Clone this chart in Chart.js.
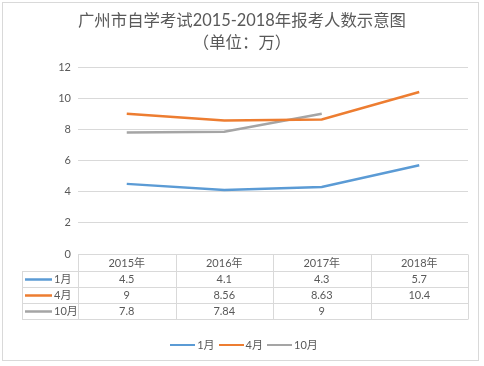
<!DOCTYPE html>
<html><head><meta charset="utf-8">
<script src="https://cdn.jsdelivr.net/npm/chart.js@4.4.1/dist/chart.umd.min.js"></script>
<style>
html,body{margin:0;padding:0;background:#fff;}
#wrap{position:relative;width:484px;height:366px;overflow:hidden;font-family:Lato,"Noto Sans CJK SC",sans-serif;color:#595959;}
#frame{position:absolute;left:2px;top:2px;width:477px;height:359px;border:1px solid #d9d9d9;box-sizing:border-box;}
#title{position:absolute;left:0;top:9px;width:484px;text-align:center;font-size:16.4px;line-height:22px;}
#legend{position:absolute;left:0;top:337px;width:484px;text-align:center;font-size:11px;line-height:16px;}
#legend span.k{display:inline-block;width:25px;height:2.5px;vertical-align:middle;margin:0 2px 0 4px;position:relative;top:-1px;}
canvas{position:absolute;left:0;top:0;}
</style></head>
<body>
<div id="wrap">
<div id="frame"></div>
<canvas id="c" width="484" height="366"></canvas>
<div id="title">广州市自学考试2015-2018年报考人数示意图<br>（单位：万）</div>
<div id="legend"></div>
</div>
<script>
const categories = ["2015年","2016年","2017年","2018年"];
const seriesNames = ["1月","4月","10月"];
const jan = [4.5, 4.1, 4.3, 5.7];
const apr = [9, 8.56, 8.63, 10.4];
const oct = [7.8, 7.84, 9, null];
const yTicks = [0, 2, 4, 6, 8, 10, 12];
const colors = ["#5B9BD5", "#ED7D31", "#A5A5A5"];
const seriesData = [jan, apr, oct];

const FONT = 'Lato, "Noto Sans CJK SC", sans-serif';
const TXT = '#595959';
const GRID = '#d9d9d9';

document.getElementById('legend').innerHTML = seriesNames.map((n,i)=>
  '<span class="k" style="background:'+colors[i]+'"></span>'+n).join('');

const tablePlugin = {
  id: 'dataTable',
  afterDraw(chart) {
    const ctx = chart.ctx;
    const xs = chart.scales.x;
    const area = chart.chartArea;
    const left = area.left, right = area.right, top = area.bottom;
    const colW = (right - left) / categories.length;
    const rowH = [17, 16, 16, 16];
    const keyLeft = 22;
    ctx.save();
    ctx.strokeStyle = GRID;
    ctx.lineWidth = 1;
    let ys = [top];
    rowH.forEach(h => ys.push(ys[ys.length-1] + h));
    ys = ys.map(v => Math.round(v) + 0.5);
    ctx.beginPath();
    ctx.moveTo(left, ys[0]); ctx.lineTo(right, ys[0]);
    for (let r = 1; r < ys.length; r++) { ctx.moveTo(keyLeft, ys[r]); ctx.lineTo(right, ys[r]); }
    for (let c = 0; c <= categories.length; c++) {
      const x = Math.round(left + c * colW) + 0.5;
      ctx.moveTo(x, ys[0]); ctx.lineTo(x, ys[ys.length-1]);
    }
    ctx.moveTo(keyLeft + 0.5, ys[1]); ctx.lineTo(keyLeft + 0.5, ys[ys.length-1]);
    ctx.stroke();

    ctx.fillStyle = TXT;
    ctx.font = '11px ' + FONT;
    ctx.textBaseline = 'middle';
    ctx.textAlign = 'center';
    categories.forEach((c, i) => {
      ctx.fillText(c, xs.getPixelForValue(i), (ys[0] + ys[1]) / 2);
    });
    seriesData.forEach((arr, r) => {
      const yc = (ys[r+1] + ys[r+2]) / 2;
      ctx.textAlign = 'center';
      arr.forEach((v, i) => {
        if (v !== null && v !== undefined) ctx.fillText(String(v), xs.getPixelForValue(i), yc);
      });
      ctx.strokeStyle = colors[r];
      ctx.lineWidth = 2.5;
      ctx.beginPath();
      ctx.moveTo(keyLeft + 3, yc); ctx.lineTo(keyLeft + 30, yc);
      ctx.stroke();
      ctx.textAlign = 'left';
      ctx.fillText(seriesNames[r], keyLeft + 32, yc);
    });
    ctx.restore();
  }
};

new Chart(document.getElementById('c'), {
  type: 'line',
  data: {
    labels: categories,
    datasets: seriesNames.map((n, i) => ({
      label: n,
      data: seriesData[i],
      borderColor: colors[i],
      backgroundColor: colors[i],
      borderWidth: 2.5,
      pointRadius: 0,
      tension: 0,
      spanGaps: false
    }))
  },
  options: {
    responsive: false,
    animation: false,
    devicePixelRatio: 1,
    layout: { padding: { left: 0, right: 16, top: 67, bottom: 0 } },
    plugins: { legend: { display: false }, title: { display: false }, tooltip: { enabled: false } },
    scales: {
      x: {
        offset: true,
        grid: { display: false },
        border: { display: false },
        ticks: { display: false },
        afterFit(s) { s.height = 112; }
      },
      y: {
        min: 0, max: 12,
        afterBuildTicks(s) { s.ticks = yTicks.map(v => ({ value: v })); },
        grid: { color: GRID, drawTicks: false },
        border: { display: false },
        ticks: { padding: 7, color: TXT, font: { size: 11, family: FONT } },
        afterFit(s) { s.width = 78; }
      }
    }
  },
  plugins: [tablePlugin]
});
</script>
</body></html>
